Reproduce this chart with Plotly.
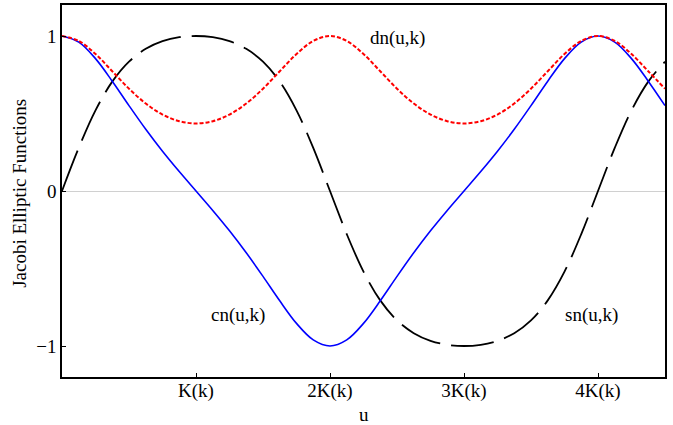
import plotly.graph_objects as go

# u in units of K(k), step K/8
u_over_K = [i / 8 for i in range(37)]

sn_vals = [0, 0.2783, 0.5201, 0.7056, 0.8345, 0.9173, 0.9665, 0.9921, 1,
           0.9921, 0.9665, 0.9173, 0.8345, 0.7056, 0.5201, 0.2783, 0,
           -0.2783, -0.5201, -0.7056, -0.8345, -0.9173, -0.9665, -0.9921, -1,
           -0.9921, -0.9665, -0.9173, -0.8345, -0.7056, -0.5201, -0.2783, 0,
           0.2783, 0.5201, 0.7056, 0.8345]

cn_vals = [1, 0.9605, 0.8541, 0.7086, 0.5510, 0.3982, 0.2565, 0.1253, 0,
           -0.1253, -0.2565, -0.3982, -0.5510, -0.7086, -0.8541, -0.9605, -1,
           -0.9605, -0.8541, -0.7086, -0.5510, -0.3982, -0.2565, -0.1253, 0,
           0.1253, 0.2565, 0.3982, 0.5510, 0.7086, 0.8541, 0.9605, 1,
           0.9605, 0.8541, 0.7086, 0.5510]

dn_vals = [1, 0.9681, 0.8837, 0.7725, 0.6602, 0.5643, 0.4933, 0.4502, 0.4359,
           0.4502, 0.4933, 0.5643, 0.6602, 0.7725, 0.8837, 0.9681, 1,
           0.9681, 0.8837, 0.7725, 0.6602, 0.5643, 0.4933, 0.4502, 0.4359,
           0.4502, 0.4933, 0.5643, 0.6602, 0.7725, 0.8837, 0.9681, 1,
           0.9681, 0.8837, 0.7725, 0.6602]

x_tickvals = [1, 2, 3, 4]
x_ticktext = ["K(k)", "2K(k)", "3K(k)", "4K(k)"]
y_tickvals = [-1, 0, 1]
y_ticktext = ["\u22121", "0", "1"]

label_text = ["sn(u,k)", "cn(u,k)", "dn(u,k)"]
label_x = [3.95, 1.31, 2.5]
label_y = [-0.8, -0.8, 0.99]

FONT = "Liberation Serif, Times New Roman, serif"

fig = go.Figure()
fig.add_trace(go.Scatter(x=u_over_K, y=sn_vals, mode="lines",
                         line=dict(color="black", width=1.8, dash="43px,11px",
                                   shape="spline", smoothing=1.0)))
fig.add_trace(go.Scatter(x=u_over_K, y=cn_vals, mode="lines",
                         line=dict(color="#0000ff", width=1.6,
                                   shape="spline", smoothing=1.0)))
fig.add_trace(go.Scatter(x=u_over_K, y=dn_vals, mode="lines",
                         line=dict(color="#ff0000", width=2, dash="4px,2px",
                                   shape="spline", smoothing=1.0)))

for t, x, y in zip(label_text, label_x, label_y):
    fig.add_annotation(x=x, y=y, text=t, showarrow=False,
                       xanchor="center", yanchor="middle",
                       font=dict(family=FONT, size=19, color="black"))

fig.add_annotation(xref="paper", yref="paper", x=-0.0697, y=0.495,
                   xanchor="center", yanchor="middle",
                   text="Jacobi Elliptic Functions", textangle=-90,
                   showarrow=False, font=dict(family=FONT, size=19, color="black"))
fig.add_annotation(xref="paper", yref="paper", x=0.5, y=-0.0995,
                   xanchor="center", yanchor="middle",
                   text="u", showarrow=False,
                   font=dict(family=FONT, size=19, color="black"))

fig.update_layout(
    width=673, height=425,
    margin=dict(l=62, r=8, t=5, b=48, autoexpand=False),
    paper_bgcolor="white", plot_bgcolor="white",
    showlegend=False,
    font=dict(family=FONT, size=19, color="black"),
    xaxis=dict(range=[0, 4.5], tickvals=x_tickvals, ticktext=x_ticktext,
               ticks="inside", ticklen=4, tickcolor="black", tickwidth=1,
               ticklabelstandoff=-5,
               showline=True, linecolor="black", linewidth=1.5, mirror=True,
               showgrid=False, zeroline=False, automargin=False),
    yaxis=dict(range=[-1.2, 1.2], tickvals=y_tickvals, ticktext=y_ticktext,
               ticks="inside", ticklen=4, tickcolor="black", tickwidth=1,
               showline=True, linecolor="black", linewidth=1.5, mirror=True,
               showgrid=False, zeroline=True, zerolinecolor="#d0d0d0",
               zerolinewidth=1, automargin=False),
)

fig.write_html("out.html", config={"displayModeBar": False},
               post_script="document.body.style.margin='0';document.body.style.padding='0';")
